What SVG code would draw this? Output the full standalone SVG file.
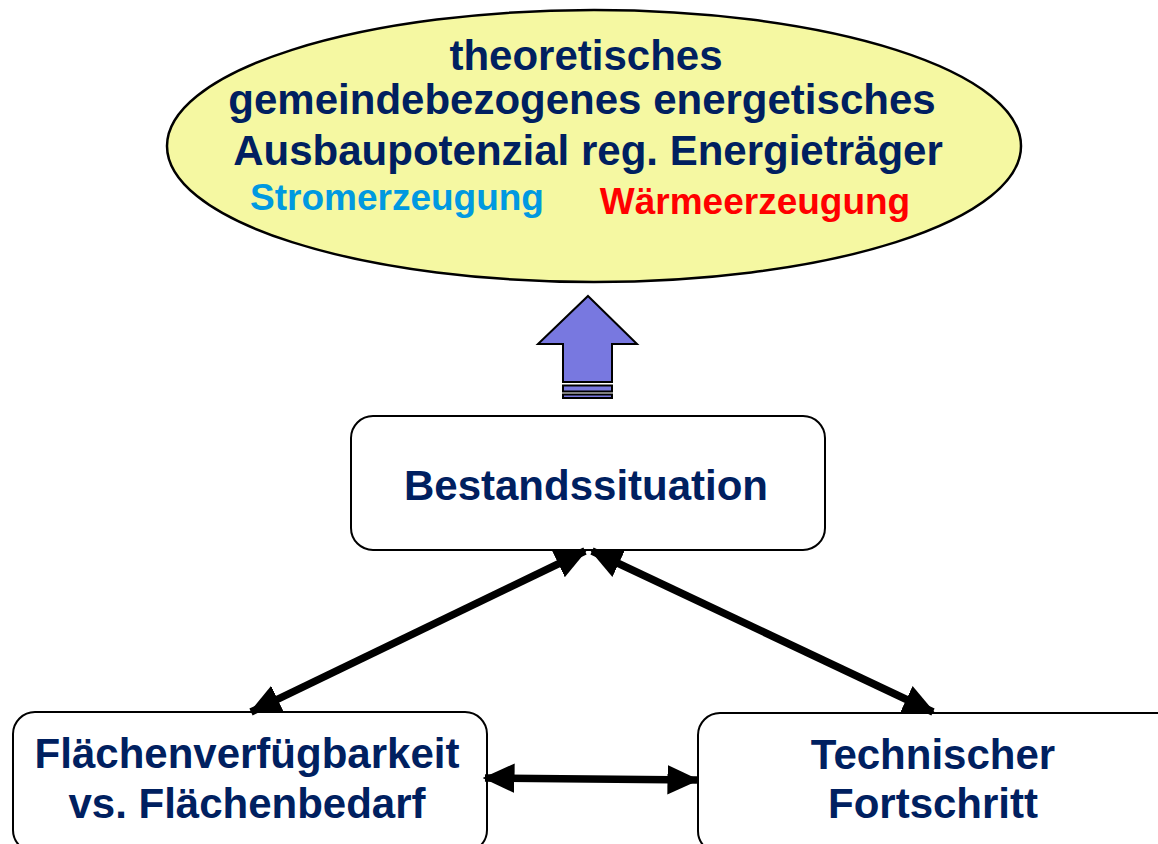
<svg xmlns="http://www.w3.org/2000/svg" width="1158" height="844" viewBox="0 0 1158 844">
<defs>
<style>
.t{font-family:"Liberation Sans",Arial,sans-serif;font-weight:bold;text-anchor:middle}
.main{font-size:42px;fill:#002060}
.sub{font-size:37px}
.box{fill:#fff;stroke:#000;stroke-width:2}
.con{stroke:#000;stroke-width:7.5;fill:none;marker-start:url(#ah);marker-end:url(#ah)}
.blk{fill:#7878E0;stroke:#000;stroke-width:2;stroke-linejoin:miter}
</style>
<marker id="ah" markerUnits="userSpaceOnUse" markerWidth="32" markerHeight="32" viewBox="0 0 26 26" refX="24" refY="13" orient="auto-start-reverse">
<path d="M0,1 L26,13 L0,25 Z" fill="#000"/>
</marker>
</defs>
<rect width="1158" height="844" fill="#fff"/>
<g id="potenzial">
<ellipse cx="594" cy="146" rx="427" ry="136" fill="#F5F8A2" stroke="#000" stroke-width="2.5"/>
<text class="t main" x="586" y="70">theoretisches</text>
<text class="t main" x="582" y="114">gemeindebezogenes energetisches</text>
<text class="t main" x="588" y="165">Ausbaupotenzial reg. Energieträger</text>
<text class="t sub" x="397" y="210" fill="#0099E0">Stromerzeugung</text>
<text class="t sub" x="755" y="214" fill="#FF0000">Wärmeerzeugung</text>
</g>
<g id="blockarrow">
<path class="blk" d="M588,296 L637,344 L612,344 L612,382 L563,382 L563,344 L538,344 Z"/>
<rect class="blk" x="563" y="385.5" width="49" height="6" stroke-width="1.5"/>
<rect class="blk" x="563" y="394.5" width="49" height="3.5" stroke-width="1.5"/>
</g>
<g id="bestand">
<rect class="box" x="351" y="416" width="474" height="134" rx="22"/>
<text class="t main" x="586" y="500">Bestandssituation</text>
</g>
<g id="flaeche">
<rect class="box" x="13" y="712" width="474" height="140" rx="22"/>
<text class="t main" x="247" y="768">Flächenverfügbarkeit</text>
<text class="t main" x="247" y="818">vs. Flächenbedarf</text>
</g>
<g id="technik">
<rect class="box" x="698" y="713" width="480" height="140" rx="22"/>
<text class="t main" x="933" y="769">Technischer</text>
<text class="t main" x="933" y="818">Fortschritt</text>
</g>
<g id="connectors">
<line class="con" x1="585" y1="551" x2="251" y2="712"/>
<line class="con" x1="592" y1="551" x2="933" y2="712"/>
<line class="con" x1="485" y1="778" x2="697" y2="780"/>
</g>
</svg>
